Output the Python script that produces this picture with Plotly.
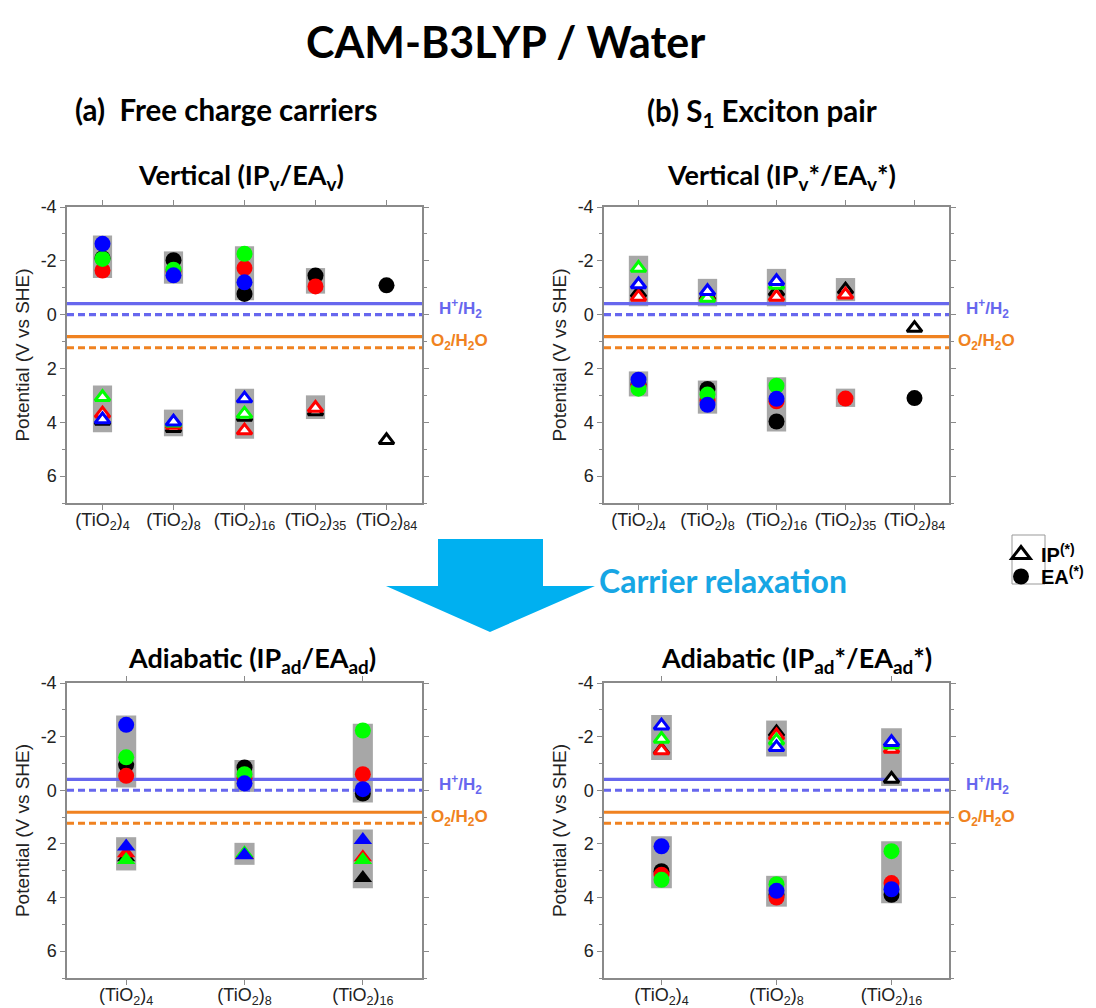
import plotly.graph_objects as go

W, H = 1096, 1008
OFF = 8  # page body margin offset of the figure inside the window

# ---------------- data ----------------
CATS_V = ["(TiO<sub>2</sub>)<sub>4</sub>", "(TiO<sub>2</sub>)<sub>8</sub>",
          "(TiO<sub>2</sub>)<sub>16</sub>", "(TiO<sub>2</sub>)<sub>35</sub>",
          "(TiO<sub>2</sub>)<sub>84</sub>"]
CATS_AD = CATS_V[:3]

Y_TICKS = [-4, -2, 0, 2, 4, 6]
Y_TICK_TEXT = ["-4", "-2", "0", "2", "4", "6"]

COLORS = {"black": "#000000", "red": "#FF0000", "green": "#00FF00", "blue": "#0000FF"}

# (a) vertical, free carriers
EA_V = {"black": [-2.10, -2.02, -0.77, -1.45, -1.09],
        "red":   [-1.64, -1.60, -1.73, -1.05, None],
        "green": [-2.07, -1.67, -2.26, None, None],
        "blue":  [-2.63, -1.46, -1.20, None, None]}
IP_V = {"black": [3.95, 4.22, 3.80, 3.60, 4.67],
        "red":   [3.68, 4.10, 4.31, 3.47, None],
        "green": [3.07, 4.02, 3.69, None, None],
        "blue":  [3.90, 3.98, 3.12, None, None]}
BOX_EA_V = [(-2.94, -1.36), (-2.35, -1.15), (-2.54, -0.53), (-1.73, -0.78), None]
BOX_IP_V = [(2.63, 4.37), (3.53, 4.52), (2.75, 4.61), (3.00, 3.88), None]

# (b) vertical, S1 exciton
IP_VX = {"black": [-0.80, -0.70, -0.85, -0.93, 0.50],
         "red":   [-0.66, -0.65, -0.66, -0.74, None],
         "green": [-1.73, -0.62, -1.10, None, None],
         "blue":  [-1.12, -0.87, -1.24, None, None]}
EA_VX = {"black": [2.60, 2.76, 3.97, None, 3.10],
         "red":   [2.65, 3.20, 3.22, 3.12, None],
         "green": [2.75, 2.97, 2.64, None, None],
         "blue":  [2.42, 3.35, 3.13, None, None]}
BOX_IP_VX = [(-2.19, -0.31), (-1.33, -0.31), (-1.70, -0.31), (-1.36, -0.50), None]
BOX_EA_VX = [(2.11, 3.04), (2.45, 3.68), (2.33, 4.34), (2.75, 3.43), None]

# (a) adiabatic, free carriers
EA_AD = {"black": [-0.95, -0.85, 0.12],
         "red":   [-0.54, -0.45, -0.60],
         "green": [-1.23, -0.60, -2.23],
         "blue":  [-2.44, -0.26, -0.04]}
IP_AD = {"black": [2.50, 2.40, 3.27],
         "red":   [2.35, 2.40, 2.50],
         "green": [2.60, 2.35, 2.60],
         "blue":  [2.10, 2.42, 1.85]}
BOX_EA_AD = [(-2.79, -0.10), (-1.13, 0.06), (-2.48, 0.46)]
BOX_IP_AD = [(1.75, 2.99), (1.96, 2.78), (1.46, 3.65)]

# (b) adiabatic, S1 exciton
IP_ADX = {"black": [-1.50, -2.16, -0.42],
          "red":   [-1.48, -2.04, -1.54],
          "green": [-1.91, -1.85, -1.70],
          "blue":  [-2.41, -1.60, -1.79]}
EA_ADX = {"black": [3.02, 3.90, 3.90],
          "red":   [3.15, 4.00, 3.46],
          "green": [3.34, 3.50, 2.27],
          "blue":  [2.09, 3.75, 3.69]}
BOX_IP_ADX = [(-2.81, -1.13), (-2.60, -1.26), (-2.31, -0.16)]
BOX_EA_ADX = [(1.71, 3.65), (3.19, 4.34), (1.90, 4.21)]

# reference redox potentials (V vs SHE): pH 7 solid, pH 0 dashed
H2_PH7, H2_PH0 = -0.41, 0.0
O2_PH7, O2_PH0 = 0.82, 1.23

# ---------------- layout geometry (window pixels) ----------------
def px(x):
    return (x - OFF) / W


def py(y):
    return 1 - (y - OFF) / H


PANELS = [
    # (axis suffix, x-domain px, y-domain px, cats, box width)
    ("", (67, 422), (207, 503), CATS_V, 0.27),
    ("2", (604, 949), (207, 503), CATS_V, 0.28),
    ("3", (67, 422), (683, 978), CATS_AD, 0.17),
    ("4", (604, 949), (683, 978), CATS_AD, 0.18),
]

BLUE_LINE = "#6767EE"
ORANGE_LINE = "#F08220"
BOX_GRAY = "#A7A7A7"
AX_GRAY = "#8A8A8A"

fig = go.Figure()


def add_boxes(sfx, boxes, width):
    xs, base, hgt = [], [], []
    for i, b in enumerate(boxes):
        if b is None:
            continue
        xs.append(i)
        base.append(b[0])
        hgt.append(b[1] - b[0])
    fig.add_trace(go.Bar(x=xs, y=hgt, base=base, width=width,
                         marker=dict(color=BOX_GRAY, line=dict(width=0)),
                         xaxis="x" + sfx, yaxis="y" + sfx,
                         showlegend=False, hoverinfo="skip"))


def add_refs(sfx, n):
    ext = [-0.5, n - 0.5]
    for val, col, dash in [(H2_PH7, BLUE_LINE, "solid"), (H2_PH0, BLUE_LINE, "7px,4px"),
                           (O2_PH7, ORANGE_LINE, "solid"), (O2_PH0, ORANGE_LINE, "7px,4px")]:
        fig.add_trace(go.Scatter(x=ext, y=[val, val], mode="lines",
                                 line=dict(color=col, width=3.2, dash=dash),
                                 xaxis="x" + sfx, yaxis="y" + sfx,
                                 showlegend=False, hoverinfo="skip", cliponaxis=True))


def add_points(sfx, series, kind):
    for name in ["black", "red", "green", "blue"]:
        vals = series[name]
        xs = [i for i, v in enumerate(vals) if v is not None]
        ys = [v for v in vals if v is not None]
        c = COLORS[name]
        if kind == "circle":
            mk = dict(symbol="circle", size=16, color=c, line=dict(width=0))
        elif kind == "open":
            mk = dict(symbol="triangle-up", size=13, color="white", line=dict(color=c, width=3))
        else:
            mk = dict(symbol="triangle-up", size=16, color=c, line=dict(width=0))
        fig.add_trace(go.Scatter(x=xs, y=ys, mode="markers", marker=mk,
                                 xaxis="x" + sfx, yaxis="y" + sfx,
                                 showlegend=False, hoverinfo="skip", cliponaxis=False))


# panel (a) vertical
add_boxes("", BOX_EA_V, 0.27)
add_boxes("", BOX_IP_V, 0.27)
add_refs("", len(CATS_V))
add_points("", EA_V, "circle")
add_points("", IP_V, "open")

# panel (b) vertical
add_boxes("2", BOX_IP_VX, 0.28)
add_boxes("2", BOX_EA_VX, 0.28)
add_refs("2", len(CATS_V))
add_points("2", IP_VX, "open")
add_points("2", EA_VX, "circle")

# panel (a) adiabatic
add_boxes("3", BOX_EA_AD, 0.17)
add_boxes("3", BOX_IP_AD, 0.17)
add_refs("3", len(CATS_AD))
add_points("3", EA_AD, "circle")
add_points("3", IP_AD, "filled")

# panel (b) adiabatic
add_boxes("4", BOX_IP_ADX, 0.18)
add_boxes("4", BOX_EA_ADX, 0.18)
add_refs("4", len(CATS_AD))
add_points("4", IP_ADX, "open")
add_points("4", EA_ADX, "circle")

# legend entries (one per legend box so the rows sit close together)
fig.add_trace(go.Scatter(x=[None], y=[None], mode="markers", name="<b>IP<sup>(*)</sup></b>",
                         legend="legend",
                         marker=dict(symbol="triangle-up", size=16, color="white",
                                     line=dict(color="black", width=3))))
fig.add_trace(go.Scatter(x=[None], y=[None], mode="markers", name="<b>EA<sup>(*)</sup></b>",
                         legend="legend2",
                         marker=dict(symbol="circle", size=16, color="black")))

AX_FONT = "Liberation Sans, Arial, sans-serif"
TICK_FONT = dict(family=AX_FONT, size=18, color="#222222")
LEG_FONT = dict(family=AX_FONT, size=20, color="black")

layout = dict(
    width=W, height=H, margin=dict(l=0, r=0, t=0, b=0, autoexpand=False),
    paper_bgcolor="white", plot_bgcolor="white",
    barmode="overlay",
    showlegend=True,
    legend=dict(x=px(1001), y=py(535), xanchor="left", yanchor="top",
                bgcolor="rgba(0,0,0,0)", borderwidth=0, font=LEG_FONT, itemwidth=30),
    legend2=dict(x=px(1001), y=py(557), xanchor="left", yanchor="top",
                 bgcolor="rgba(0,0,0,0)", borderwidth=0, font=LEG_FONT, itemwidth=30),
)

for sfx, xd, yd, cats, bw in PANELS:
    n = len(cats)
    layout["xaxis" + sfx] = dict(
        domain=[px(xd[0]), px(xd[1])], anchor="y" + sfx, automargin=False,
        range=[-0.5, n - 0.5], tickmode="array", tickvals=list(range(n)), ticktext=cats,
        showline=True, linecolor=AX_GRAY, linewidth=1.5, mirror="ticks",
        ticks="outside", ticklen=5, tickcolor=AX_GRAY, tickwidth=1.2, ticklabelstandoff=-5,
        showgrid=False, zeroline=False, tickfont=TICK_FONT, fixedrange=True)
    layout["yaxis" + sfx] = dict(
        domain=[py(yd[1]), py(yd[0])], anchor="x" + sfx, automargin=False,
        range=[7, -4], tickmode="array", tickvals=Y_TICKS, ticktext=Y_TICK_TEXT,
        showline=True, linecolor=AX_GRAY, linewidth=1.5, mirror="ticks",
        ticks="outside", ticklen=5, tickcolor=AX_GRAY, tickwidth=1.2,
        minor=dict(tickmode="linear", tick0=1, dtick=2, ticks="outside", ticklen=3, tickcolor=AX_GRAY),
        showgrid=False, zeroline=False, tickfont=TICK_FONT, fixedrange=True,
        title=dict(text="Potential (V vs SHE)", standoff=6,
                   font=dict(family=AX_FONT, size=19, color="#222222")))

fig.update_layout(**layout)

TITLE_FONT = "Lato, Open Sans, sans-serif"


def txt(text, x, y, size, anchor="center", color="black"):
    return dict(text=text, x=px(x), y=py(y), xref="paper", yref="paper",
                xanchor=anchor, yanchor="middle", showarrow=False,
                font=dict(family=TITLE_FONT, size=size, color=color))


ann = [
    txt("<b>CAM-B3LYP / Water</b>", 506, 42, 43),
    txt("<b>(a)  Free charge carriers</b>", 73, 110, 29.5, "left"),
    txt("<b>(b) S<sub>1</sub> Exciton pair</b>", 645, 113, 29.5, "left"),
    txt("<b>Vertical (IP<sub>v</sub>/EA<sub>v</sub>)</b>", 241, 177, 27),
    txt("<b>Vertical (IP<sub>v</sub>*/EA<sub>v</sub>*)</b>", 781, 177, 27),
    txt("<b>Adiabatic (IP<sub>ad</sub>/EA<sub>ad</sub>)</b>", 252, 659, 27),
    txt("<b>Adiabatic (IP<sub>ad</sub>*/EA<sub>ad</sub>*)</b>", 796, 659, 27),
    txt("<b>Carrier relaxation</b>", 597, 580, 32, "left", "#17A6E4"),
]

# redox labels
for sfx, xd, yd, cats, bw in PANELS:
    xl = xd[1] + 13
    ann.append(dict(text="<b>H<sup>+</sup>/H<sub>2</sub></b>", x=px(xl + 2), y=(H2_PH7 + H2_PH0) / 2 - 0.02,
                    xref="paper", yref="y" + sfx, xanchor="left", yanchor="middle", showarrow=False,
                    font=dict(family=AX_FONT, size=17, color=BLUE_LINE)))
    ann.append(dict(text="<b>O<sub>2</sub>/H<sub>2</sub>O</b>", x=px(xl - 6), y=O2_PH7 + 0.2,
                    xref="paper", yref="y" + sfx, xanchor="left", yanchor="middle", showarrow=False,
                    font=dict(family=AX_FONT, size=17, color=ORANGE_LINE)))

fig.update_layout(annotations=ann)

# big arrow + legend frame
arrow_pts = [(438, 539), (543, 539), (543, 586), (595, 586), (490, 632), (386, 586), (438, 586)]
path = "M " + " L ".join(f"{px(x):.5f},{py(y):.5f}" for x, y in arrow_pts) + " Z"
shapes = [
    dict(type="path", path=path, xref="paper", yref="paper",
         fillcolor="#00B0F0", line=dict(width=0)),
    dict(type="rect", x0=px(1012), x1=px(1045), y0=py(584), y1=py(535), xref="paper", yref="paper",
         line=dict(color="#999999", width=1)),
]
fig.update_layout(shapes=shapes)

fig.write_html("out.html")
